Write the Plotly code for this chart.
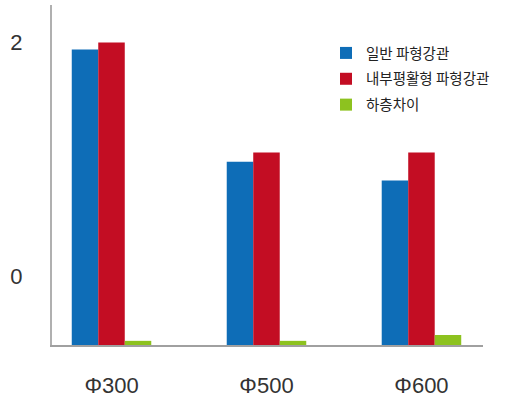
import plotly.graph_objects as go

categories = ["Φ300", "Φ500", "Φ600"]
series_names = ["일반 파형강관", "내부평활형 파형강관", "하층차이"]
general = [1.94, 0.98, 0.82]
smooth_inner = [2.0, 1.06, 1.06]
lower_diff = [-0.55, -0.55, -0.50]
colors = ["#0e6db7", "#c30d23", "#8dc21f"]
y_ticks = [0, 2]
y_tick_labels = ["0", "2"]

Y_MIN, Y_MAX = -0.5855, 2.32

fig = go.Figure()
for i, (name, vals, col) in enumerate(zip(series_names, [general, smooth_inner, lower_diff], colors)):
    fig.add_trace(go.Bar(
        x=categories,
        y=[v - Y_MIN for v in vals],
        base=Y_MIN,
        name=name,
        legendgroup=f"g{i}",
        marker=dict(color=col, line=dict(width=0)),
    ))

fig.update_layout(
    width=530, height=400,
    margin=dict(l=52, r=47, t=5, b=55, autoexpand=False),
    paper_bgcolor="white", plot_bgcolor="white",
    barmode="group", bargap=0.487, bargroupgap=0,
    font=dict(family="Liberation Sans, Noto Sans CJK KR, sans-serif", color="#333333"),
    showlegend=True,
    legend=dict(
        x=(326 - 52) / 431, y=(345 - 37) / 340, xanchor="left", yanchor="top",
        font=dict(family="Noto Sans CJK KR, sans-serif", size=14.5, color="#222222"),
        bgcolor="rgba(0,0,0,0)", borderwidth=0,
        tracegroupgap=4, traceorder="grouped",
    ),
    xaxis=dict(
        type="category", range=[-0.384, 2.397],
        showline=True, linecolor="#a0a0a0", linewidth=2,
        showgrid=False, zeroline=False, ticks="",
        tickfont=dict(size=22, color="#333333"),
        ticklabelstandoff=20,
    ),
    yaxis=dict(
        range=[Y_MIN, Y_MAX],
        tickvals=y_ticks, ticktext=y_tick_labels,
        showline=True, linecolor="#b0b0b0", linewidth=2,
        showgrid=False, zeroline=False, ticks="",
        tickfont=dict(size=22, color="#333333"),
        ticklabelstandoff=23,
    ),
)

fig.write_html("out.html", config={"displayModeBar": False},
               post_script="document.body.style.margin='0';")
